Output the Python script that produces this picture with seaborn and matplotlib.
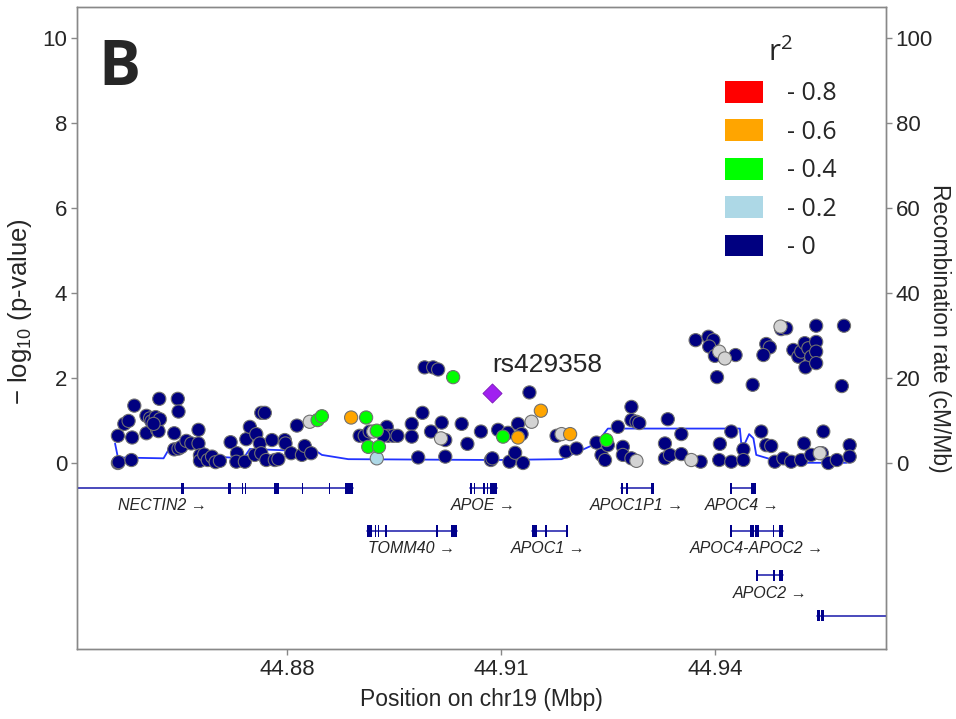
import numpy as np
import pandas as pd
import seaborn as sns
import matplotlib.pyplot as plt
from matplotlib.patches import Patch

# association results, position on chr19 (Mbp) and -log10 p, split by LD bin
r2_0_pos = [
    44.8563, 44.8564, 44.8582, 44.8563, 44.8583, 44.8572, 44.8578, 44.8586, 44.8603, 44.8603,
    44.8608, 44.8610, 44.8616, 44.8617, 44.8618, 44.8620, 44.8622, 44.8613,
    44.8621, 44.8647, 44.8648, 44.8642,
    44.8642, 44.8648, 44.8652, 44.8659, 44.8666, 44.8676, 44.8676,
    44.8678, 44.8678, 44.8684, 44.8689, 44.8695, 44.8700, 44.8706,
    44.8721, 44.8730, 44.8729, 44.8741, 44.8743, 44.8748, 44.8757, 44.8762, 44.8764, 44.8769,
    44.8755, 44.8764, 44.8771, 44.8779, 44.8783, 44.8788,
    44.8797, 44.8798, 44.8806, 44.8814, 44.8821, 44.8825, 44.8834,
    44.8902, 44.8909, 44.8916, 44.8940, 44.8942, 44.8949, 44.8955, 44.8935,
    44.8975, 44.8975, 44.8984, 44.8990, 44.9002, 44.9017, 44.9022, 44.9022, 44.9045, 44.9053,
    44.9072, 44.9086,
    44.8993, 44.9005, 44.9012,
    44.9140, 44.9096, 44.9110, 44.9124, 44.9129, 44.9088, 44.9112, 44.9120, 44.9131, 44.9178,
    44.9191, 44.9206,
    44.9234, 44.9241, 44.9246, 44.9250, 44.9264, 44.9271, 44.9271, 44.9283, 44.9283, 44.9290,
    44.9294, 44.9283,
    44.9330, 44.9334, 44.9330, 44.9337, 44.9353, 44.9353, 44.9380,
    44.9407, 44.9406, 44.9423, 44.9423, 44.9440, 44.9440, 44.9465, 44.9472, 44.9479,
    44.9484, 44.9496, 44.9507, 44.9521, 44.9525, 44.9535, 44.9550, 44.9552, 44.9559, 44.9571,
    44.9589, 44.9589,
    44.9373, 44.9391, 44.9398, 44.9392, 44.9400, 44.9429, 44.9403, 44.9453, 44.9472, 44.9477,
    44.9468, 44.9493, 44.9500, 44.9542, 44.9581, 44.9510, 44.9517, 44.9521, 44.9526, 44.9531,
    44.9535, 44.9542, 44.9542, 44.9527, 44.9542, 44.9578,
]
r2_0_logp = [
    0.00, 0.02, 0.07, 0.64, 0.60, 0.92, 0.99, 1.35, 0.70, 1.11,
    1.05, 0.98, 1.08, 0.85, 0.78, 0.75, 1.03, 0.92,
    1.51, 1.51, 1.21, 0.70,
    0.32, 0.34, 0.38, 0.52, 0.46, 0.46, 0.78,
    0.18, 0.05, 0.20, 0.07, 0.15, 0.02, 0.05,
    0.49, 0.23, 0.03, 0.03, 0.56, 0.85, 0.68, 0.46, 1.18, 1.18,
    0.19, 0.23, 0.07, 0.54, 0.07, 0.09,
    0.54, 0.46, 0.23, 0.88, 0.19, 0.40, 0.23,
    0.64, 0.64, 0.74, 0.85, 0.64, 0.64, 0.64, 0.64,
    0.92, 0.62, 0.13, 1.18, 0.74, 0.95, 0.54, 0.15, 0.92, 0.45,
    0.74, 0.07,
    2.25, 2.25, 2.20,
    1.66, 0.78, 0.71, 0.92, 0.68, 0.11, 0.03, 0.24, 0.00, 0.64,
    0.27, 0.34,
    0.48, 0.19, 0.07, 0.42, 0.85, 0.38, 0.19, 1.32, 1.01, 0.97,
    0.94, 0.11,
    0.46, 1.03, 0.11, 0.19, 0.68, 0.21, 0.03,
    0.45, 0.07, 0.03, 0.74, 0.32, 0.07, 0.74, 0.42, 0.40,
    0.03, 0.11, 0.03, 0.07, 0.46, 0.19, 0.23, 0.74, 0.00, 0.07,
    0.42, 0.15,
    2.89, 2.97, 2.89, 2.74, 2.52, 2.54, 2.02, 1.84, 2.80, 2.72,
    2.54, 3.15, 3.17, 3.23, 3.23, 2.66, 2.50, 2.62, 2.82, 2.70,
    2.50, 2.85, 2.62, 2.25, 2.35, 1.81,
]
na_pos = [44.8832, 44.8921, 44.9016, 44.9143, 44.9185, 44.9290, 44.9367, 44.9547, 44.9406, 44.9414, 44.9492]
na_logp = [0.97, 0.74, 0.58, 0.97, 0.68, 0.05, 0.07, 0.23, 2.62, 2.46, 3.21]
r2_02_pos = [44.8926]
r2_02_logp = [0.11]
r2_04_pos = [44.8843, 44.8849, 44.8911, 44.8926, 44.8914, 44.8929, 44.9033, 44.9103, 44.9248]
r2_04_logp = [1.01, 1.10, 1.07, 0.76, 0.38, 0.38, 2.02, 0.62, 0.54]
r2_06_pos = [44.8890, 44.9156, 44.9124, 44.9197]
r2_06_logp = [1.07, 1.23, 0.60, 0.68]

lead_snp = 'rs429358'
lead_pos = [44.9087]
lead_logp = [1.65]

# recombination rate (cM/Mb)
recomb_pos = [44.8559, 44.8563, 44.8627, 44.8634, 44.8652, 44.8683, 44.8688, 44.8739, 44.8748,
              44.8779, 44.8842, 44.8849, 44.8886, 44.9092, 44.9185, 44.9234, 44.9250, 44.9435,
              44.9437, 44.9442, 44.9448, 44.9454, 44.9458, 44.9482, 44.9505, 44.9585]
recomb_rate = [4.6, 1.3, 1.1, 3.1, 3.7, 3.8, 1.6, 1.1, 3.3,
               3.1, 2.7, 1.9, 0.9, 0.7, 0.9, 4.6, 8.1, 8.1,
               4.6, 4.6, 6.8, 5.8, 1.9, 0.7, 0.05, 0.05]

# genes
gene_names = ['NECTIN2', 'TOMM40', 'APOE', 'APOC1', 'APOC1P1', 'APOC4', 'APOC4-APOC2', 'APOC2', 'CLPTM1']
gene_start = [44.8400, 44.8912, 44.9056, 44.9143, 44.9268, 44.9422, 44.9422, 44.9459, 44.9543]
gene_end = [44.8892, 44.9038, 44.9094, 44.9193, 44.9313, 44.9456, 44.9495, 44.9495, 44.9800]
gene_row = [-0.59, -1.60, -0.59, -1.60, -0.59, -0.59, -1.60, -2.64, -3.59]
gene_label_x = [44.8625, 44.8975, 44.9075, 44.9166, 44.9291, 44.9438, 44.9459, 44.9477, None]
gene_exons = [
    [(44.8652, 44.8655), (44.8718, 44.8721), (44.8737, 44.8739), (44.8741, 44.8743),
     (44.8782, 44.8789), (44.8821, 44.8823), (44.8859, 44.8861), (44.8881, 44.8893)],
    [(44.8912, 44.8919), (44.8923, 44.8925), (44.8927, 44.8929), (44.8938, 44.8940),
     (44.9009, 44.9012), (44.9030, 44.9038)],
    [(44.9057, 44.9059), (44.9062, 44.9064), (44.9075, 44.9077), (44.9080, 44.9082), (44.9085, 44.9094)],
    [(44.9143, 44.9151), (44.9162, 44.9164), (44.9191, 44.9194)],
    [(44.9268, 44.9271), (44.9275, 44.9278), (44.9311, 44.9314)],
    [(44.9421, 44.9424), (44.9450, 44.9453), (44.9454, 44.9457)],
    [(44.9421, 44.9424), (44.9449, 44.9455), (44.9456, 44.9462), (44.9481, 44.9483), (44.9490, 44.9495)],
    [(44.9458, 44.9460), (44.9481, 44.9484), (44.9490, 44.9495)],
    [(44.9543, 44.9547), (44.9549, 44.9553)],
]

legend_labels = ['- 0.8', '- 0.6', '- 0.4', '- 0.2', '- 0']
legend_colors = ['#FF0000', '#FFA500', '#00FF00', '#ADD8E6', '#000080']

sns.set_style("white")
plt.rcParams['font.family'] = ['Liberation Sans', 'DejaVu Sans']
plt.rcParams['mathtext.default'] = 'regular'

# build one table for the snps
frames = []
for pos, lp, grp in [(r2_0_pos, r2_0_logp, '0'), (na_pos, na_logp, 'NA'),
                     (r2_02_pos, r2_02_logp, '0.2'), (r2_04_pos, r2_04_logp, '0.4'),
                     (r2_06_pos, r2_06_logp, '0.6')]:
    frames.append(pd.DataFrame({'pos': pos, 'logp': lp, 'r2': grp}))
snps = pd.concat(frames, ignore_index=True)
palette = {'0': '#000080', 'NA': '#D3D3D3', '0.2': '#ADD8E6', '0.4': '#00FF00', '0.6': '#FFA500'}

fig = plt.figure(figsize=(9.56, 7.19), dpi=100)
ax = fig.add_axes([0.0805, 0.0974, 0.8462, 0.8929])
ax2 = ax.twinx()

# recombination line on the right axis, kept behind the points
sns.lineplot(x=recomb_pos, y=recomb_rate, ax=ax2, color='#2233FF', linewidth=1.3,
             sort=False, estimator=None)
ax.set_zorder(ax2.get_zorder() + 1)
ax.patch.set_visible(False)

sns.scatterplot(data=snps, x='pos', y='logp', hue='r2', palette=palette, s=90,
                edgecolor='#707070', linewidth=0.8, legend=False, ax=ax, zorder=3)
sns.scatterplot(x=lead_pos, y=lead_logp, marker='D', color='#A020F0', s=95,
                edgecolor='#7a18b8', linewidth=0.6, ax=ax, zorder=4)
ax.text(lead_pos[0] + 0.0001, lead_logp[0] + 0.65, lead_snp, fontsize=19, va='center')

# gene track
for i, name in enumerate(gene_names):
    row = gene_row[i]
    ax.plot([gene_start[i], gene_end[i]], [row, row], color='#2a2ab0', linewidth=1.2, zorder=2)
    ax.broken_barh([(s, e - s) for s, e in gene_exons[i]], (row - 0.13, 0.26),
                   facecolor='#00008B', edgecolor='none', zorder=2)
    if gene_label_x[i] is not None:
        ax.text(gene_label_x[i], row - 0.42, name + ' \u2192', ha='center', va='center',
                style='italic', fontsize=11.5)

ax.set_xlim(44.85056, 44.96398)
ax.set_ylim(-4.376, 10.73)
ax2.set_ylim(-43.76, 107.3)
ax.set_xticks([44.88, 44.91, 44.94])
ax.set_xticklabels(['44.88', '44.91', '44.94'])
ax.set_yticks([0, 2, 4, 6, 8, 10])
ax2.set_yticks([0, 20, 40, 60, 80, 100])

ax.set_xlabel('Position on chr19 (Mbp)', fontsize=16.5, labelpad=6)
ax.set_ylabel('\u2212 log$_{10}$ (p-value)', fontsize=18.5, va='center')
ax.yaxis.set_label_coords(-0.0705, 0.525)
ax2.set_ylabel('Recombination rate (cM/Mb)', fontsize=16.5, rotation=270,
               va='center', ha='center')
ax2.yaxis.set_label_coords(1.0667, 0.5)

for a in (ax, ax2):
    for sp in a.spines.values():
        sp.set_color('#888888')
        sp.set_linewidth(1.0)
ax.tick_params(axis='both', which='both', bottom=True, left=True, direction='out',
               length=4, width=1, color='#888888', labelsize=16, pad=3)
ax2.tick_params(axis='y', right=True, direction='out', length=4, width=1,
                color='#888888', labelsize=16, pad=3)

handles = [Patch(facecolor=c, edgecolor='none') for c in legend_colors]
leg = ax.legend(handles, legend_labels, title='r$^{2}$', loc='upper left',
                bbox_to_anchor=(725 / 956, 1 - 38 / 719), bbox_transform=fig.transFigure,
                frameon=False, prop={'family': 'Open Sans', 'size': 18},
                title_fontproperties={'family': 'Open Sans', 'size': 21},
                handlelength=1.52, handleheight=0.96, labelspacing=0.52,
                handletextpad=0.95, borderpad=0, borderaxespad=0)

fig.text(0.103, 1 - 85 / 719, 'B', fontsize=45, fontweight='bold', family='Open Sans',
         va='baseline')

fig.savefig('out.png', dpi=100)
